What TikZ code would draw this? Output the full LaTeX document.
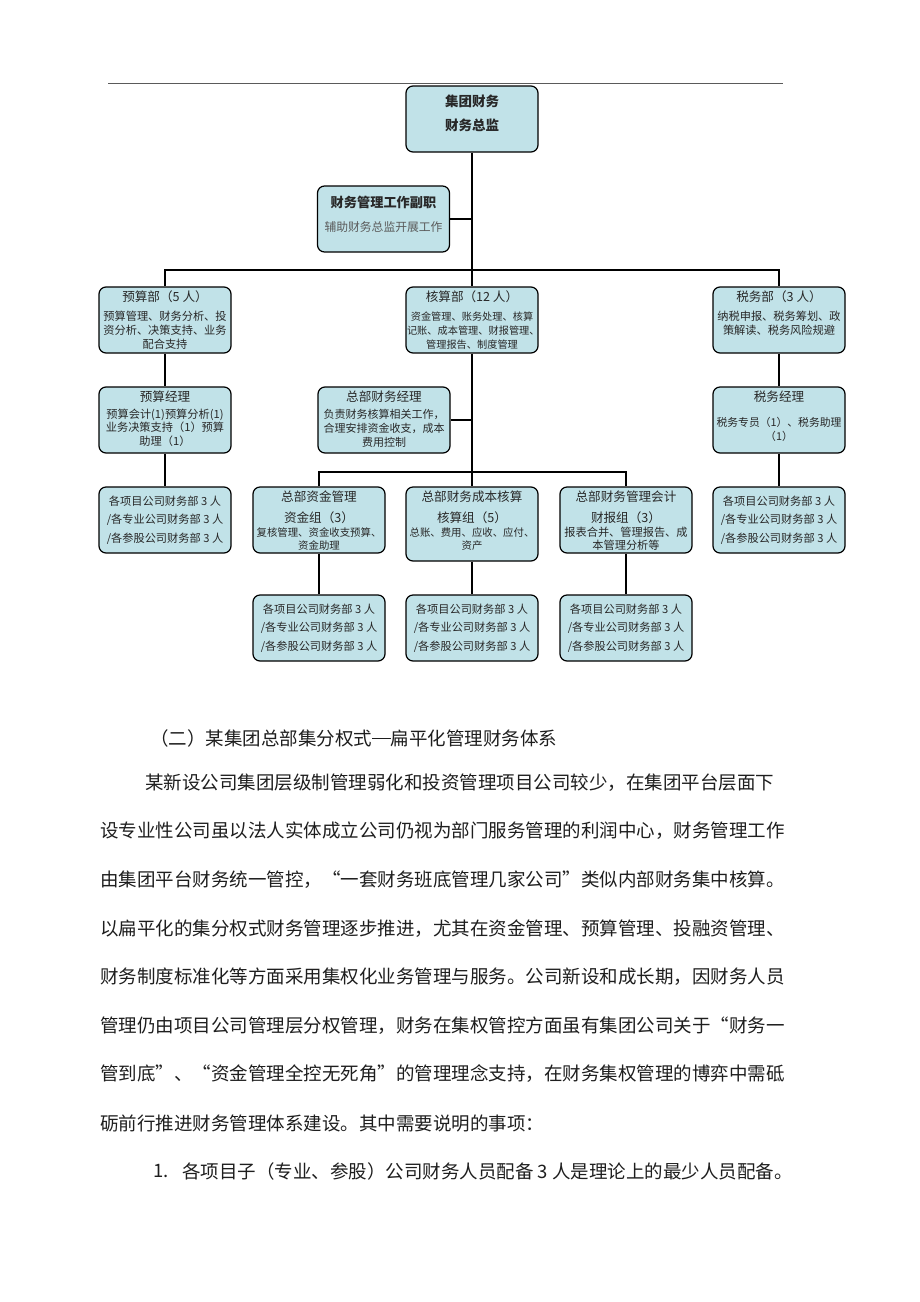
\documentclass[tikz,border=0pt]{standalone}
\usepackage{fontspec}
\newfontfamily\cjk{Noto Sans CJK SC}
\definecolor{boxblue}{RGB}{193,226,232}
\definecolor{boxtext}{RGB}{40,40,40}
\definecolor{bodytext}{RGB}{30,30,30}
\definecolor{rulegray}{RGB}{90,90,90}
\newcommand\bxt[2][58pt]{\parbox[c][#1][t]{130pt}{\centering\cjk #2}}
\newcommand\bxc[1]{\parbox[c][58pt][c]{130pt}{\centering\cjk #1}}
\newcommand\ttl[1]{{\fontsize{12.6}{14}\selectfont #1\par}}
\newcommand\bd{\fontsize{11.2}{14.4}\selectfont}
\newcommand\bottomtext{\bxc{\fontsize{11.2}{18.5}\selectfont 各项目公司财务部 3 人\\/各专业公司财务部 3 人\\/各参股公司财务部 3 人}}
\tikzset{
  orgbox/.style={draw=black, line width=1.2pt, rounded corners=7pt, fill=boxblue,
    minimum width=132pt, minimum height=66pt, inner xsep=1pt, inner ysep=2pt, text=boxtext},
  conn/.style={line width=2.8pt, draw=black},
  bodyline/.style={anchor=west, inner sep=0pt, text=bodytext, font=\cjk\fontsize{18.5}{20}\selectfont},
}
\begin{document}
\begin{tikzpicture}[x=1pt,y=-1pt]
\fill[white] (0,0) rectangle (920,1302);
\useasboundingbox (0,0) rectangle (920,1302);
\coordinate (ruleL) at (108,83);
\coordinate (ruleR) at (783,83);
\draw[rulegray, line width=1pt] (ruleL) -- (ruleR);

% boxes
\node[orgbox] (top) at (472,119) {\bxt{\vspace*{5pt}\bfseries\fontsize{13.5}{24}\selectfont 集团财务\\财务总监}};
\node[orgbox, minimum width=131pt] (fz) at (383.5,219) {\bxt{\vspace*{6pt}{\bfseries\fontsize{13.2}{14}\selectfont 财务管理工作副职\par}\fontsize{11.8}{24}\selectfont\color{rulegray} 辅助财务总监开展工作}};

\node[orgbox] (ys) at (165,320) {\bxt{\ttl{预算部（5 人）}\vspace{4pt}\bd 预算管理、财务分析、投\\资分析、决策支持、业务\\配合支持}};
\node[orgbox] (hs) at (472,320) {\bxt{\ttl{核算部（12 人）}\vspace{5pt}\fontsize{10.2}{14}\selectfont 资金管理、账务处理、核算\\记账、成本管理、财报管理、\\管理报告、制度管理}};
\node[orgbox] (sw) at (779,320) {\bxt{\ttl{税务部（3 人）}\vspace{4pt}\bd 纳税申报、税务筹划、政\\策解读、税务风险规避}};

\node[orgbox] (ysjl) at (165,420) {\bxt{\ttl{预算经理}\vspace{3pt}\fontsize{11.2}{13.5}\selectfont 预算会计(1)预算分析(1)\\业务决策支持（1）预算\\助理（1）}};
\node[orgbox, minimum width=131pt] (zb) at (384,420) {\bxt{\ttl{总部财务经理}\vspace{3pt}\fontsize{11}{13.8}\selectfont 负责财务核算相关工作，\\合理安排资金收支，成本\\费用控制}};
\node[orgbox] (swjl) at (779,420) {\bxt{\ttl{税务经理}\vspace{11pt}\fontsize{10.8}{14}\selectfont 税务专员（1）、税务助理\\（1）}};

\node[orgbox] (ysb) at (165,520) {\bottomtext};
\node[orgbox] (zj) at (319,520) {\bxt{\ttl{总部资金管理}\vspace{7pt}\ttl{资金组（3）}\fontsize{10.4}{13.5}\selectfont 复核管理、资金收支预算、\\资金助理}};
\node[orgbox, minimum height=74pt] (cb) at (472,524) {\bxt[66pt]{\ttl{总部财务成本核算}\vspace{7pt}\ttl{核算组（5）}\fontsize{10.4}{13.5}\selectfont 总账、费用、应收、应付、\\资产}};
\node[orgbox] (gl) at (626,520) {\bxt{\ttl{总部财务管理会计}\vspace{7pt}\ttl{财报组（3）}\fontsize{11.2}{13.5}\selectfont 报表合并、管理报告、成\\本管理分析等}};
\node[orgbox] (swb) at (779,520) {\bottomtext};

\node[orgbox] (zjb) at (319,628) {\bottomtext};
\node[orgbox] (cbb) at (472,628) {\bottomtext};
\node[orgbox] (glb) at (626,628) {\bottomtext};

% connectors
\coordinate (bar1) at (472,270);
\coordinate (bar2) at (472,472);
\draw[conn] (top.south) -- (hs.north);
\draw[conn] (fz.east) -- (fz.east -| top.south);
\draw[conn] (ys.north) |- (bar1) -| (sw.north);
\draw[conn] (ys.south) -- (ysjl.north);
\draw[conn] (ysjl.south) -- (ysb.north);
\draw[conn] (sw.south) -- (swjl.north);
\draw[conn] (swjl.south) -- (swb.north);
\draw[conn] (hs.south) -- (cb.north);
\draw[conn] (zb.east) -- (zb.east -| hs.south);
\draw[conn] (zj.north) |- (bar2) -| (gl.north);
\draw[conn] (zj.south) -- (zjb.north);
\draw[conn] (cb.south) -- (cbb.north);
\draw[conn] (gl.south) -- (glb.north);

% text body
\node[bodyline] (t0) at (150,738) {（二）某集团总部集分权式\rule[0.32em]{1em}{0.06em}扁平化管理财务体系};
\node[bodyline] (t1) at (145,783) {某新设公司集团层级制管理弱化和投资管理项目公司较少，在集团平台层面下};
\node[bodyline] (t2) at (100,831) {设专业性公司虽以法人实体成立公司仍视为部门服务管理的利润中心，财务管理工作};
\node[bodyline] (t3) at (100,880) {由集团平台财务统一管控，“一套财务班底管理几家公司”类似内部财务集中核算。};
\node[bodyline] (t4) at (100,929) {以扁平化的集分权式财务管理逐步推进，尤其在资金管理、预算管理、投融资管理、};
\node[bodyline] (t5) at (100,977) {财务制度标准化等方面采用集权化业务管理与服务。公司新设和成长期，因财务人员};
\node[bodyline] (t6) at (100,1026) {管理仍由项目公司管理层分权管理，财务在集权管控方面虽有集团公司关于“财务一};
\node[bodyline] (t7) at (100,1074) {管到底”、“资金管理全控无死角”的管理理念支持，在财务集权管理的博弈中需砥};
\node[bodyline] (t8) at (100,1123) {砺前行推进财务管理体系建设。其中需要说明的事项：};
\node[bodyline] (t9n) at (153,1171) {1.};
\node[bodyline] (t9) at (182,1171) {各项目子（专业、参股）公司财务人员配备 3 人是理论上的最少人员配备。};
\end{tikzpicture}
\end{document}
